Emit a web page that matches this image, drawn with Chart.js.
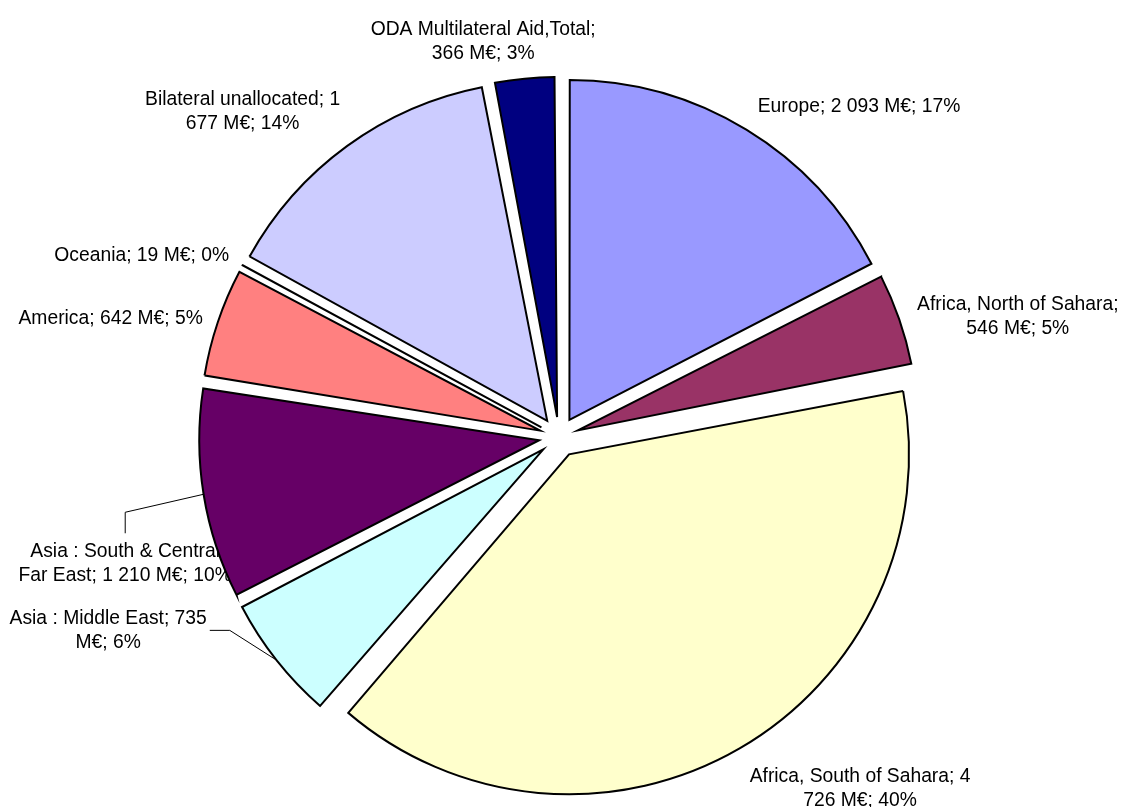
<!DOCTYPE html>
<html>
<head>
<meta charset="utf-8">
<script src="https://cdn.jsdelivr.net/npm/chart.js@4.4.1/dist/chart.umd.min.js"></script>
<style>
  html, body { margin: 0; padding: 0; background: #fff; }
  #wrap { width: 1121px; height: 807px; position: relative; }
</style>
</head>
<body>
<div id="wrap"><canvas id="aidChart"></canvas></div>
<script>
// ODA by region, M€
const regions = [
    "Europe",
    "Africa, North of Sahara",
    "Africa, South of Sahara",
    "Asia : Middle East",
    "Asia : South & Central Far East",
    "America",
    "Oceania",
    "Bilateral unallocated",
    "ODA Multilateral Aid,Total"
]

const amounts = [2093, 546, 4726, 735, 1210, 642, 19, 1677, 366]

// shares as printed on the labels (they add up to 100)
const sharePct = [17, 5, 40, 6, 10, 5, 0, 14, 3]

const sliceColors = [
    "#9999FF", "#993366", "#FFFFCC", "#CCFFFF", "#660066",
    "#FF8080", "#0066CC", "#CCCCFF", "#000080"
]

// label layout: words on first line (0 = single line), nudges, leader lines
const breakAfter = [0, 4, 5, 5, 5, 0, 0, 3, 3]
const labelNudge = [
    [1, 4], [-1, 12], [0, 2], [-54, -57], [48, 62],
    [4, 7], [4, 6], [5, 1], [73, 7]
]
const leaderSide = [null, null, null, "right", "top", null, null, null, null]

const PIE_RADIUS = 340
const SLICE_SHIFT = 20          // px each slice is pulled out
const FONT_SIZE = 19.3
const LINE_H = 24
const LABEL_GAP = 20

function fmtThousands(v) {
    return String(v).replace(/\B(?=(\d{3})+(?!\d))/g, " ")
}

function labelLines(i) {
    const text = `${regions[i]}; ${fmtThousands(amounts[i])} M€; ${sharePct[i]}%`
    const n = breakAfter[i]
    if (!n) return [text]
    const words = text.split(" ")
    return [words.slice(0, n).join(" "), words.slice(n).join(" ")]
}

// Chart.js moves an arc by offset/4 and also grows narrow arcs by
// that amount; shrink them back so every slice keeps the same radius
const evenRadius = {
    id: "evenRadius",
    afterDatasetUpdate(chart, args) {
        args.meta.data.forEach(arc => {
            const shift = (arc.options.offset || 0) / 4
            const fix = 1 - Math.sin(Math.min(Math.PI, arc.circumference || 0))
            arc.outerRadius = PIE_RADIUS - shift * fix
        })
    }
}

// labels go under the slices, so a slice edge can cover a label's end
const sliceLabels = {
    id: "sliceLabels",
    beforeDatasetsDraw(chart) {
        const ctx = chart.ctx
        const meta = chart.getDatasetMeta(0)

        ctx.save()
        ctx.font = `${FONT_SIZE}px "Liberation Sans", Arial, sans-serif`
        ctx.fillStyle = "#000"
        ctx.strokeStyle = "#000"
        ctx.lineWidth = 1
        ctx.textAlign = "center"
        ctx.textBaseline = "middle"

        meta.data.forEach((arc, i) => {
            const p = arc.getProps(["x", "y", "startAngle", "endAngle"], true)
            const shift = (arc.options.offset || 0) / 4
            const a = (p.startAngle + p.endAngle) / 2
            const cos = Math.cos(a)
            const sin = Math.sin(a)

            const lines = labelLines(i)
            const w = Math.max(...lines.map(l => ctx.measureText(l).width))
            const h = lines.length * LINE_H

            const reach = PIE_RADIUS + shift + LABEL_GAP
            const ax = p.x + cos * reach
            const ay = p.y + sin * reach

            const cx = ax + Math.sign(cos) * w / 2 + labelNudge[i][0]
            const cy = ay + sin * h / 2 + labelNudge[i][1]

            lines.forEach((line, k) => {
                ctx.fillText(line, cx, cy + (k - (lines.length - 1) / 2) * LINE_H)
            })

            // leader line back to the slice edge
            if (leaderSide[i]) {
                const px = p.x + cos * (PIE_RADIUS + shift)
                const py = p.y + sin * (PIE_RADIUS + shift)
                let sx, sy, ex, ey
                if (leaderSide[i] === "right") {
                    sx = cx + w / 2 + 3; sy = cy
                    ex = sx + 20; ey = sy
                } else {
                    sx = cx; sy = cy - h / 2 - 6
                    ex = sx; ey = sy - 21
                }
                ctx.beginPath()
                ctx.moveTo(sx, sy)
                ctx.lineTo(ex, ey)
                ctx.lineTo(px, py)
                ctx.stroke()
            }
        })

        ctx.restore()
    }
}

const aidChart = new Chart(
    document.getElementById("aidChart"),
    {
        type: "pie",

        data: {
            labels: regions,

            datasets: [{
                data: amounts,
                backgroundColor: sliceColors,
                borderColor: "#000",
                borderWidth: 2,
                borderJoinStyle: "miter",
                offset: SLICE_SHIFT * 4,
                radius: PIE_RADIUS,
                clip: false
            }]
        },

        options: {
            responsive: true,
            maintainAspectRatio: false,
            animation: false,
            events: [],

            layout: {
                padding: { left: 0, right: 3, top: 67, bottom: 0 }
            },

            plugins: {
                legend: { display: false },
                tooltip: { enabled: false }
            }
        },

        plugins: [evenRadius, sliceLabels]
    }
)
</script>
</body>
</html>
